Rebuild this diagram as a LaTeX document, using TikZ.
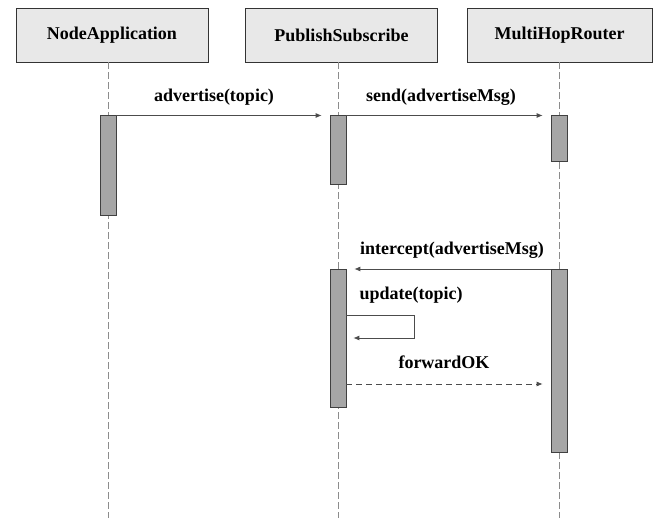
\documentclass[tikz,border=0pt]{standalone}
\usepackage{fontspec}
\setmainfont{Liberation Serif}
\usetikzlibrary{arrows.meta}
\begin{document}
\begin{tikzpicture}[x=1pt,y=-1pt,
  every node/.style={font=\fontsize{18}{21}\selectfont\bfseries},
  header/.style={draw=black!80, fill=black!9, line width=0.9pt, minimum height=53.5pt, inner sep=0pt},
  activation/.style={draw=black!75, fill=black!35, line width=0.7pt, minimum width=16pt, inner sep=0pt, anchor=north},
  lifeline/.style={draw=black!45, line width=0.6pt, dash pattern=on 7pt off 3pt},
  msg/.style={draw=black!70, line width=0.8pt, -{Latex[length=6pt,width=5pt]}, shorten >=8pt},
  reply/.style={msg, dash pattern=on 6pt off 4pt},
  label/.style={anchor=base, text=black}]
\useasboundingbox (0,0) rectangle (664,518);

% participants
\node[header, minimum width=192pt] (na) at (112,35.25) {NodeApplication};
\node[header, minimum width=192pt] (ps) at (341.5,35.25) {PublishSubscribe};
\node[header, minimum width=185pt] (mh) at (559.5,35.25) {MultiHopRouter};

% lifeline ends
\coordinate (naend) at (108,518);
\coordinate (psend) at (338,518);
\coordinate (mhend) at (559,518);

\draw[lifeline] (na.south -| naend) -- (naend);
\draw[lifeline] (ps.south -| psend) -- (psend);
\draw[lifeline] (mh.south -| mhend) -- (mhend);

% activation bars
\node[activation, minimum height=100pt] (na1) at (108,115.5) {};
\node[activation, minimum height=68.5pt] (ps1) at (338,115.5) {};
\node[activation, minimum height=46pt] (mh1) at (559,115.5) {};
\node[activation, minimum height=138pt] (ps2) at (338,269) {};
\node[activation, minimum height=183pt] (mh2) at (559,269) {};

% messages
\draw[msg] (na1.north east) -- (ps1.north west);
\node[label] (l1) at (214,102) {advertise(topic)};

\draw[msg] (ps1.north east) -- (mh1.north west);
\node[label] (l2) at (441,102) {send(advertiseMsg)};

\draw[msg] (mh2.north west) -- (ps2.north east);
\node[label] (l3) at (452,255) {intercept(advertiseMsg)};

% self call
\coordinate (selfa) at (346,315);
\coordinate (selfb) at (414,315);
\coordinate (selfc) at (414,338);
\coordinate (selfd) at (346,338);
\draw[msg, shorten >=7pt] (ps2.east |- selfa) -- (selfb) -- (selfc) -- (ps2.east |- selfd);
\node[label] (l4) at (411,300) {update(topic)};

% return
\coordinate (fwd) at (0,384);
\draw[reply] (ps2.east |- fwd) -- (mh2.west |- fwd);
\node[label] (l5) at (444,369) {forwardOK};
\end{tikzpicture}
\end{document}
